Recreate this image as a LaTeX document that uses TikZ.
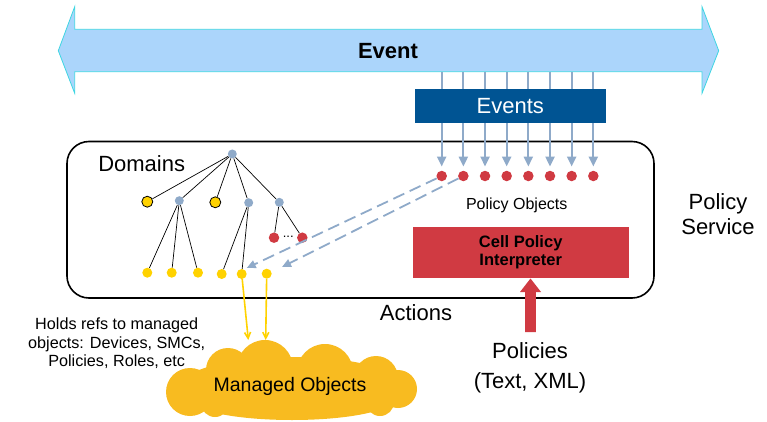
\documentclass[tikz,border=0pt]{standalone}
\usepackage{fontspec}
\setmainfont{Liberation Sans}
\usetikzlibrary{arrows.meta}
\definecolor{evblue}{HTML}{ABD5FB}
\definecolor{evedge}{HTML}{3ED6E2}
\definecolor{darkblue}{HTML}{005493}
\definecolor{steel}{HTML}{8FAAC9}
\definecolor{dotred}{HTML}{D03A42}
\definecolor{gold}{HTML}{FFD200}
\definecolor{cloudy}{HTML}{F8BB20}
\begin{document}
\begin{tikzpicture}[x=1pt,y=-1pt,
  bluedot/.style={circle,fill=steel,inner sep=0,minimum size=9},
  ydot/.style={circle,fill=gold,inner sep=0,minimum size=10},
  ydotb/.style={circle,fill=gold,draw=black,line width=0.8,inner sep=0,minimum size=11},
  rdot/.style={circle,fill=dotred,inner sep=0,minimum size=10.5},
  edge/.style={black,line width=0.7},
  evarrow/.style={steel,line width=2.2,-{Triangle[width=9,length=10]}},
  dasharrow/.style={steel,line width=1.8,dash pattern=on 12pt off 6pt,-{Triangle[width=8,length=9]}},
  yarrow/.style={gold,line width=1.6,-{Straight Barb[width=6,length=6]}},
  big/.style={font=\fontsize{22}{25}\selectfont},
  small/.style={font=\fontsize{16}{18.5}\selectfont}
]
\useasboundingbox (0,0) rectangle (767,422);
% Event double arrow
\draw[fill=evblue,draw=evedge,line width=0.8]
  (58.3,50.7) -- (74.7,6.7) -- (74.7,29.3) -- (702,29.3) -- (702,6.7) -- (718.7,50.7)
  -- (702,93.3) -- (702,71.7) -- (74.7,71.7) -- (74.7,93.3) -- cycle;
\node[font=\fontsize{22}{25}\selectfont\bfseries] (event) at (388,50.7) {Event};
% Rounded box
\draw[line width=1.6,rounded corners=22] (67,141.5) rectangle (654,298);
% policy dots and event arrows
\foreach \i in {1,...,8}{
  \pgfmathsetmacro{\xx}{441.7+(\i-1)*21.66}
  \node[rdot] (p\i) at (\xx,176) {};
  \coordinate (t\i) at (\xx,72);
  \draw[evarrow] (t\i) -- ([yshift=4]p\i.north);
}
\node[fill=darkblue,minimum width=190.5,minimum height=33.4,inner sep=0,text=white,big] (events) at (510.3,106) {Events};
\node[small] (pobj) at (516.7,205) {Policy Objects};
\node[fill=dotred,minimum width=216,minimum height=51.6,inner sep=0,align=center,
  font=\fontsize{16.5}{18.4}\selectfont\bfseries] (cpi) at (520.7,252.5) {Cell Policy\\Interpreter};
% red up arrow
\fill[dotred] (525.2,332) -- (525.2,292) -- (520,292) -- (530.5,278.5) -- (541,292) -- (535.8,292) -- (535.8,332) -- cycle;
% texts
\node[big] (domains) at (141.7,163.3) {Domains};
\node[big,align=center] (ps) at (718,214) {Policy\\Service};
\node[big] (actions) at (416,313) {Actions};
\node[big,align=center,font=\fontsize{22}{30}\selectfont] (pol) at (530,368) {Policies\\(Text, XML)};
\node[align=center,font=\fontsize{16.2}{18.5}\selectfont] (holds) at (116.7,343.5) {Holds refs to managed\\objects: Devices, SMCs,\\Policies, Roles, etc};
% tree
\node[bluedot] (r) at (232.3,154) {};
\node[ydotb] (a1) at (147.3,201.7) {};
\node[bluedot] (a2) at (179.3,200.7) {};
\node[ydotb] (a3) at (215.3,202.3) {};
\node[bluedot] (a4) at (248.7,202.7) {};
\node[bluedot] (a5) at (279.3,202.3) {};
\node[ydot] (b1) at (147.3,272.7) {};
\node[ydot] (b2) at (171.7,272.7) {};
\node[ydot] (b3) at (198,272.7) {};
\node[ydot] (b4) at (221.7,274) {};
\node[ydot] (b5) at (241.7,274) {};
\node[ydot] (b6) at (266.7,273.7) {};
\node[rdot] (c1) at (274,237.7) {};
\node[rdot] (c2) at (302.3,237.7) {};
\node[font=\fontsize{13}{14}\selectfont] (dots) at (288.2,236.5) {...};
\foreach \a in {a1,a2,a3,a4,a5} \draw[edge] (r) -- (\a);
\foreach \b in {b1,b2,b3} \draw[edge] (a2) -- (\b);
\foreach \b in {b4,b5} \draw[edge] (a4) -- (\b);
\foreach \c in {c1,c2} \draw[edge] (a5) -- (\c);
% dashed arrows
\coordinate (d2) at (282,267);
\draw[dasharrow] (p1) -- ([shift={(5,-6)}]b5.center);
\draw[dasharrow] (p2) -- (d2);
% cloud
\begin{scope}[fill=cloudy]
  \fill (292,385) ellipse [x radius=110, y radius=28];
  \fill (190,392) circle [radius=24];
  \fill (228,370) circle [radius=22];
  \fill (265,368) circle [radius=28];
  \fill (325,372) circle [radius=28];
  \fill (376,378) circle [radius=22];
  \fill (398,389) circle [radius=19];
  \fill (292,400) ellipse [x radius=100, y radius=20];
  \fill (215,403) circle [radius=14];
  \fill (380,402) circle [radius=14];
\end{scope}
\node[font=\fontsize{19.5}{22}\selectfont] (mo) at (290,386.7) {Managed Objects};
\coordinate (m1) at (248.3,340);
\coordinate (m2) at (265.7,340);
\draw[yarrow] (b5) -- (m1);
\draw[yarrow] (b6) -- (m2);
\end{tikzpicture}
\end{document}
